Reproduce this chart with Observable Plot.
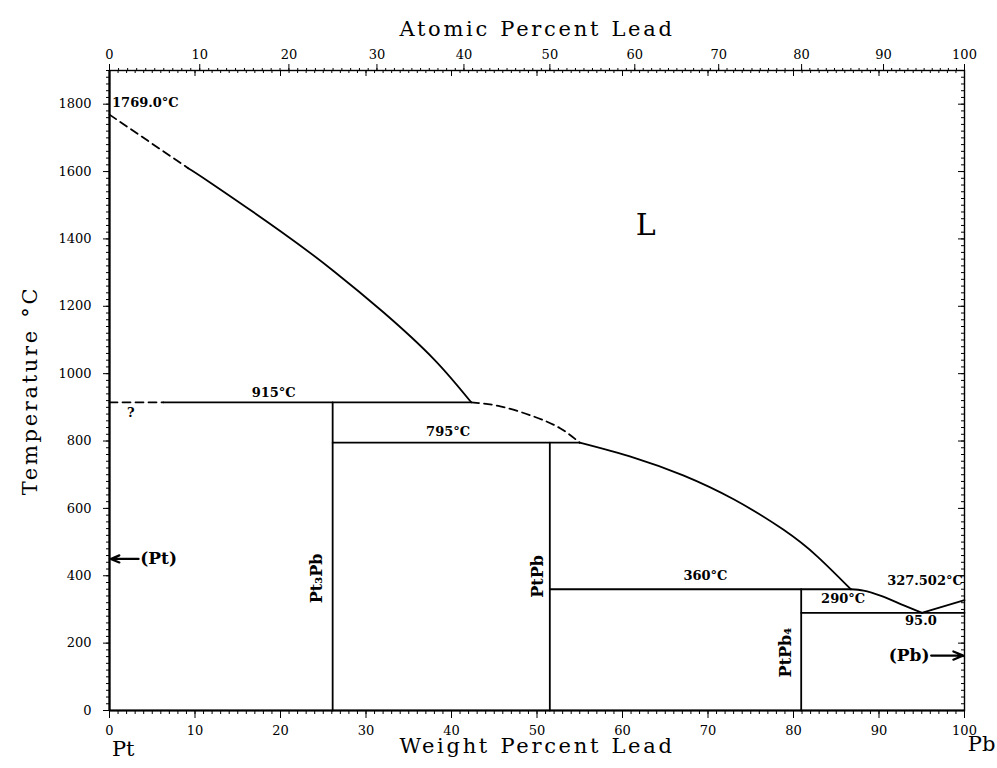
<!DOCTYPE html>
<html>
<head>
<meta charset="utf-8">
<script src="https://cdn.jsdelivr.net/npm/d3@7"></script>
<script src="https://cdn.jsdelivr.net/npm/@observablehq/plot@0.6"></script>
<style>
  html, body { margin: 0; padding: 0; background: #fff; }
  svg { display: block; }
</style>
</head>
<body>
<div id="chart"></div>
<script>
// ---- Data (weight % Pb, temperature °C) ----
const ptLiquidusDashed = [[0, 1769], [9.2, 1610]];
const ptLiquidusSolid = [[9.2, 1610], [11.8, 1567], [20, 1423], [26.2, 1305], [32, 1183], [37.9, 1044], [42.3, 915]];
const midLiquidusDashed = [[42.3, 915], [45.7, 903], [49.6, 873], [52.7, 838], [55, 795]];
const pbLiquidus = [[55, 795], [61.3, 751], [67.1, 698], [73, 627], [78.8, 537], [82.8, 457], [86.7, 360]];
const eutecticCurve = [[86.7, 360], [88.2, 356], [90.5, 338], [92.9, 312], [95, 290]];
const pbSideLiquidus = [[95, 290], [100, 327.5]];

const iso915Dashed = [[0, 915], [6.3, 915]];
const iso915 = [[6.3, 915], [42.3, 915]];
const iso795 = [[26.1, 795], [55, 795]];
const iso360 = [[51.5, 360], [86.7, 360]];
const iso290 = [[80.9, 290], [100, 290]];

const pt3pbLine = [[26.1, 0], [26.1, 915]];
const ptpbLine = [[51.5, 0], [51.5, 795]];
const ptpb4Line = [[80.9, 0], [80.9, 360]];

// axis ticks
const weightTicks = d3.range(0, 101, 10);
const weightMinor = d3.range(0, 101, 1);
const tempTicks = d3.range(0, 1801, 200);
const tempMinor = d3.range(0, 1901, 20);
const atomicTicks = d3.range(0, 101, 10);
const atomicMinor = d3.range(0, 101, 1);
const massPb = 207.2, massPt = 195.08;
const atomicToWeight = a => 100 * a * massPb / (a * massPb + (100 - a) * massPt);

// annotations
const annotations = [
  {x: 0.3, T: 1803, text: "1769.0°C", anchor: "start"},
  {x: 19.2, T: 944, text: "915°C", anchor: "middle"},
  {x: 2.5, T: 885, text: "?", anchor: "middle"},
  {x: 39.6, T: 826, text: "795°C", anchor: "middle"},
  {x: 69.7, T: 401, text: "360°C", anchor: "middle"},
  {x: 85.8, T: 333, text: "290°C", anchor: "middle"},
  {x: 99.8, T: 386, text: "327.502°C", anchor: "end"},
  {x: 94.9, T: 266, text: "95.0", anchor: "middle"}
];
const phaseLabels = [
  {x: 24.3, T: 392, text: "Pt₃Pb"},
  {x: 50.1, T: 398, text: "PtPb"},
  {x: 79.1, T: 172, text: "PtPb₄"}
];
const arrows = [
  {x1: 3.4, x2: 0.15, T: 450},
  {x1: 96.1, x2: 99.85, T: 163}
];
const arrowLabels = [
  {x: 3.6, T: 450, text: "(Pt)", anchor: "start"},
  {x: 95.9, T: 163, text: "(Pb)", anchor: "end"}
];
const titles = ["Atomic Percent Lead", "Weight Percent Lead", "Temperature °C"];

// ---- Layout ----
const W = 997, H = 768, mL = 109, mR = 33, mT = 70, mB = 58;
const innerW = W - mL - mR, innerH = H - mT - mB;
const serif = "DejaVu Serif";
const lineOpts = {x: d => d[0], y: d => d[1], stroke: "black", strokeWidth: 1.8};
const dash = "8,5";
const atomicPos = atomicTicks.map(atomicToWeight);
const atomicLabel = new Map(atomicPos.map((p, i) => [p, String(atomicTicks[i])]));
const byAnchor = (arr, a) => arr.filter(d => d.anchor === a);

const textMarks = (arr, opts) => ["start", "middle", "end"].map(a =>
  Plot.text(byAnchor(arr, a), {x: "x", y: "T", text: "text", textAnchor: a, ...opts}));

const chart = Plot.plot({
  width: W, height: H,
  marginLeft: mL, marginRight: mR, marginTop: mT, marginBottom: mB,
  style: {fontFamily: serif, fontSize: "13px", color: "black", background: "white"},
  x: {domain: [0, 100], label: null},
  y: {domain: [0, 1900], label: null},
  marks: [
    Plot.frame({strokeWidth: 1.4}),
    Plot.ruleY([0], {strokeWidth: 2.2}),
    Plot.ruleX([0], {strokeWidth: 2.2}),
    // bottom weight axis
    Plot.axisX({anchor: "bottom", ticks: weightTicks, tickSize: 8, tickPadding: 7, tickFormat: d => String(d), label: null, fontSize: 13}),
    Plot.axisX({anchor: "bottom", ticks: weightMinor, tickSize: 4, tickFormat: () => "", label: null}),
    // left temperature axis
    Plot.axisY({anchor: "left", ticks: tempTicks, tickSize: 6, tickPadding: 12, tickFormat: d => String(d), label: null, fontSize: 13}),
    Plot.axisY({anchor: "left", ticks: tempMinor, tickSize: 3, tickFormat: () => "", label: null}),
    // top atomic axis (outward)
    Plot.axisX({anchor: "top", ticks: atomicPos, tickSize: 7, tickPadding: 5, tickFormat: d => atomicLabel.get(d), label: null, fontSize: 13}),
    Plot.axisX({anchor: "top", ticks: atomicMinor.map(atomicToWeight), tickSize: 3, tickFormat: () => "", label: null}),
    // top weight ticks (inward)
    Plot.tickX(weightTicks, {x: d => d, insetBottom: innerH - 6, strokeWidth: 1}),
    Plot.tickX(weightMinor, {x: d => d, insetBottom: innerH - 3, strokeWidth: 1}),
    // right temperature ticks (inward)
    Plot.tickY(tempMinor, {y: d => d, insetLeft: innerW - 3, strokeWidth: 1}),
    Plot.tickY(tempTicks, {y: d => d, insetLeft: innerW - 6, strokeWidth: 1}),

    // phase boundaries
    Plot.line(ptLiquidusDashed, {...lineOpts, strokeDasharray: dash}),
    Plot.line(ptLiquidusSolid, {...lineOpts, curve: "natural"}),
    Plot.line(midLiquidusDashed, {...lineOpts, curve: "natural", strokeDasharray: dash}),
    Plot.line(pbLiquidus, {...lineOpts, curve: "natural"}),
    Plot.line(eutecticCurve, {...lineOpts, curve: "monotone-x"}),
    Plot.line(pbSideLiquidus, lineOpts),
    Plot.line(iso915Dashed, {...lineOpts, strokeDasharray: dash}),
    Plot.line(iso915, lineOpts),
    Plot.line(iso795, lineOpts),
    Plot.line(iso360, lineOpts),
    Plot.line(iso290, lineOpts),
    Plot.line(pt3pbLine, lineOpts),
    Plot.line(ptpbLine, lineOpts),
    Plot.line(ptpb4Line, lineOpts),

    // arrows
    Plot.arrow(arrows, {x1: "x1", x2: "x2", y1: "T", y2: "T", stroke: "black", strokeWidth: 2.2, headLength: 9, headAngle: 45}),
    ...textMarks(arrowLabels, {fontSize: 17, fontWeight: "bold"}),

    // annotations
    ...textMarks(annotations, {fontSize: 13, fontWeight: "bold"}),
    Plot.text(phaseLabels, {x: "x", y: "T", text: "text", rotate: -90, fontSize: 16, fontWeight: "bold"}),
    Plot.text(["L"], {x: 62.7, y: 1440, text: d => d, fontSize: 30}),

    // axis titles
    Plot.text([titles[0]], {frameAnchor: "top", dy: -49, text: d => d, fontSize: 21}),
    Plot.text([titles[1]], {frameAnchor: "bottom", dy: 42, text: d => d, fontSize: 21}),
    Plot.text([titles[2]], {frameAnchor: "left", textAnchor: "middle", dx: -79, rotate: -90, text: d => d, fontSize: 21}),
    Plot.text(["Pt"], {x: 1.6, frameAnchor: "bottom", dy: 45, text: d => d, fontSize: 21}),
    Plot.text(["Pb"], {x: 102, frameAnchor: "bottom", dy: 40, text: d => d, fontSize: 21})
  ]
});
// widen the typewriter-like axis titles
d3.select(chart).selectAll("text").each(function() {
  if (titles.includes(this.textContent)) {
    this.setAttribute("letter-spacing", "2.7px");
    this.setAttribute("word-spacing", "1px");
  }
});
document.getElementById("chart").appendChild(chart);
</script>
</body>
</html>
